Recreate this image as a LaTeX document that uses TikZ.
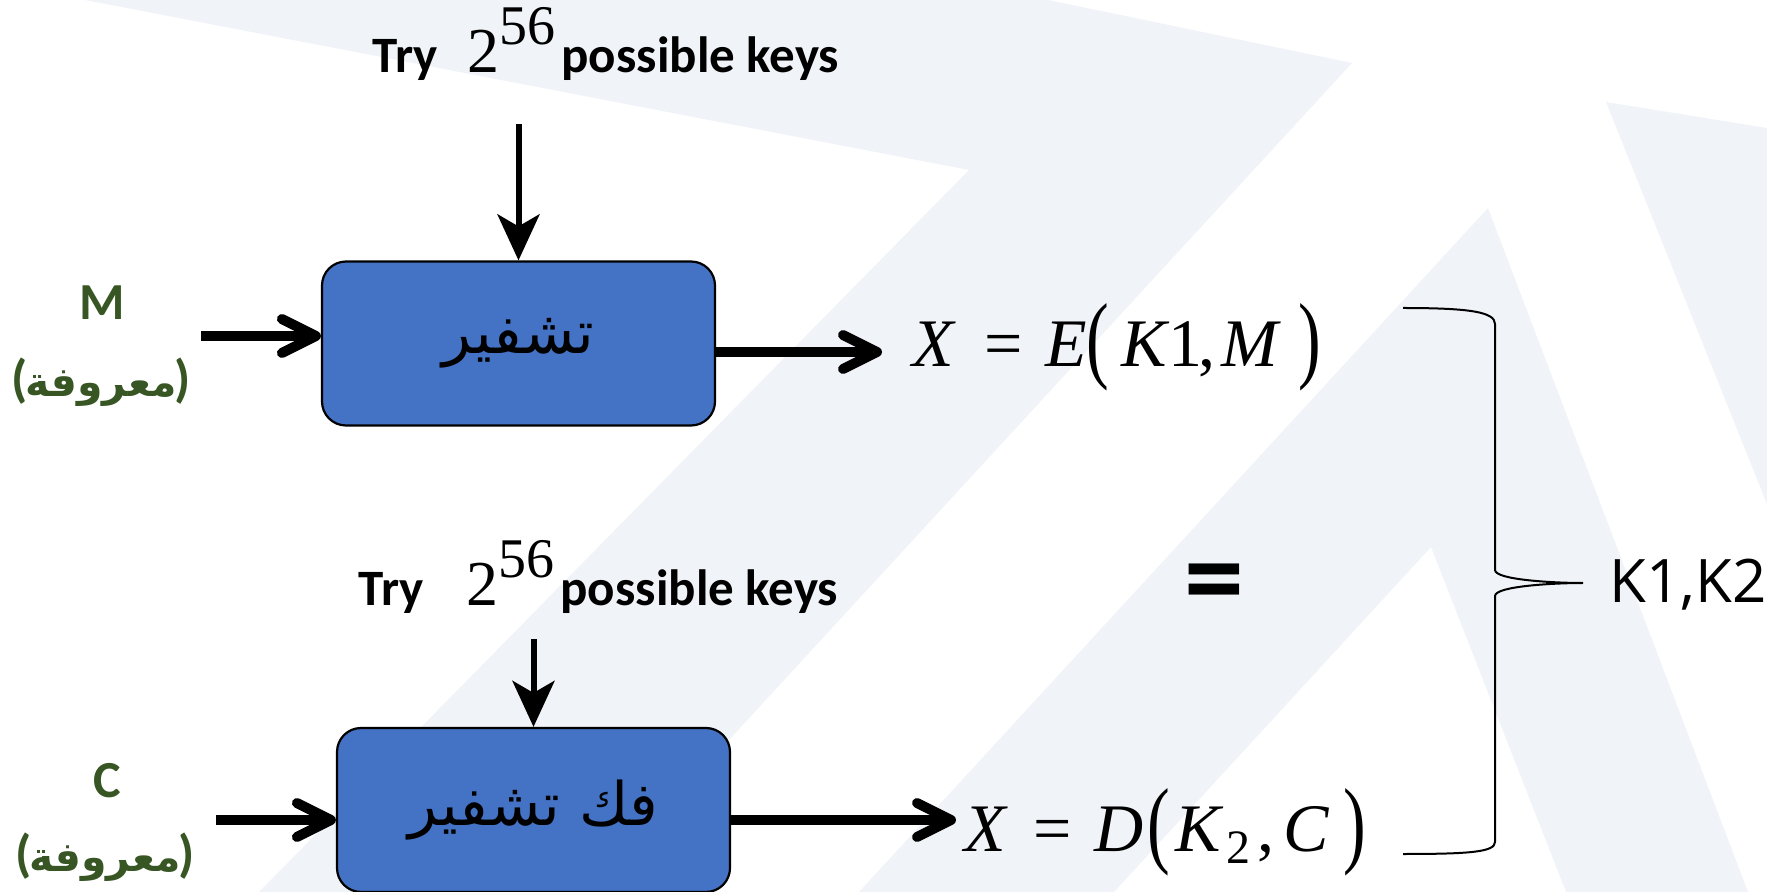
\documentclass[tikz,border=0pt]{standalone}
\usepackage{fontspec}
\usepackage{graphicx}
\setmainfont{Carlito}
\newfontfamily\tnr{Liberation Serif}
\newfontfamily\arabicfont[Script=Arabic]{DejaVu Sans}
\newfontfamily\kfont{Open Sans}
\TeXXeTstate=1
\usetikzlibrary{arrows.meta}
\definecolor{bgband}{RGB}{240,244,248}
\definecolor{boxblue}{RGB}{68,114,196}
\definecolor{labelgreen}{RGB}{55,86,35}
% tall parentheses for the formulas
\newcommand\tallparen[1]{\raisebox{-2pt}{\scalebox{1}[1.42]{#1}}}
% "2 to the 56" in the key-search captions
\newcommand\keycount{{\tnr\mdseries\fontsize{32pt}{38pt}\selectfont 2\raisebox{14pt}{\fontsize{28pt}{32pt}\selectfont 56}}}
% "(known)" under the plaintext and ciphertext labels
\newcommand\knowntext{(\hspace{-1pt}{\arabicfont\fontsize{20.5pt}{24pt}\selectfont\beginR معروفة\endR}\hspace{-1pt})}
\tikzset{
  cipherbox/.style={draw=black, line width=1.1pt, fill=boxblue, rounded corners=12pt,
    minimum width=196.5pt, minimum height=82pt, inner sep=0pt},
  keyarrow/.style={line width=3pt, -{Stealth[length=23pt,width=21pt,inset=6pt]}},
  feedarrow/.style={line width=5pt, -{Straight Barb[length=17pt,width=17pt,round]}},
  keylabel/.style={anchor=base west, inner sep=0pt, font=\bfseries\fontsize{25.5pt}{30pt}\selectfont},
  formula/.style={anchor=base west, inner sep=0pt, font=\tnr\fontsize{34pt}{40pt}\selectfont},
  greenlabel/.style={text=labelgreen, inner sep=0pt, font=\bfseries\fontsize{26pt}{30pt}\selectfont},
  knownlabel/.style={text=labelgreen, inner sep=0pt, font=\bfseries\fontsize{26pt}{30pt}\selectfont},
  boxtext/.style={font=\arabicfont\fontsize{30pt}{34pt}\selectfont},
  bracestroke/.style={line width=1pt, black},
}
\begin{document}
\begin{tikzpicture}[x=0.5pt,y=-0.5pt]
\useasboundingbox (0,0) rectangle (1767,892);
\fill[white] (0,0) rectangle (1767,892);
% pale background bands
\fill[bgband] (85,0) -- (1048,0) -- (1352,63) -- (589,892) -- (259,892) -- (969,170) -- cycle;
\fill[bgband] (1488,208) -- (1748,892) -- (1566,892) -- (1431,547) -- (1114,892) -- (859,892) -- cycle;
\fill[bgband] (1606,102) -- (1767,128) -- (1767,504) -- cycle;

% encryption stage
\node[cipherbox, boxtext] (enc) at (518.5,343.5) {\beginR تشفير\endR};
\node[keylabel] (trytop) at (372,73) {Try\hspace{15pt}\keycount\hspace{3pt}possible keys};
\coordinate (keytop) at (518.5,124);
\draw[keyarrow] (keytop) -- (enc.north);
\node[greenlabel] (mlab) at (102,303) {M};
\node[knownlabel] (mknown) at (101,382) {\knowntext};
\coordinate (min) at (201,336);
\draw[feedarrow] (min) -- (enc.west |- min);
\coordinate (eout) at (882,352);
\draw[feedarrow] (enc.east |- eout) -- (eout);
\node[formula] (xe) at (912,367) {{\itshape X}\hspace{15.5pt}=\hspace{11pt}{\itshape E}\tallparen{(}\hspace{6pt}{\itshape K}\hspace{1pt}1\hspace{-2pt},\hspace{3pt}{\itshape M}\hspace{10pt}\tallparen{)}};

% decryption stage
\node[cipherbox, boxtext] (dec) at (533.5,810) {\beginR فك تشفير\endR};
\node[keylabel] (trybot) at (358,606) {Try\hspace{21.5pt}\keycount\hspace{3pt}possible keys};
\coordinate (keybot) at (533.5,639);
\draw[keyarrow] (keybot) -- (dec.north);
\node[greenlabel] (clab) at (107,781) {C};
\node[knownlabel] (cknown) at (105,857) {\knowntext};
\coordinate (cin) at (216,820);
\draw[feedarrow] (cin) -- (dec.west |- cin);
\coordinate (dout) at (956,820);
\draw[feedarrow] (dec.east |- dout) -- (dout);
\node[formula] (xd) at (964,851) {{\itshape X}\hspace{13.75pt}=\hspace{11.5pt}{\itshape D}\hspace{2pt}\tallparen{(}\hspace{2.5pt}{\itshape K}\hspace{3pt}\raisebox{-6pt}{\fontsize{24pt}{28pt}\selectfont 2}\hspace{3.5pt},\hspace{4.5pt}{\itshape C}\hspace{7pt}\tallparen{)}};

% equality of the two intermediate values
\node[inner sep=0pt, font=\bfseries\fontsize{60pt}{70pt}\selectfont] (eq) at (1214,591) {=};

% brace collecting the key pair
\draw[bracestroke] (1403,308) .. controls (1470,308) and (1495,312) .. (1495,324)
  -- (1495,570) .. controls (1495,580) and (1555,583) .. (1583,583)
  .. controls (1555,583) and (1495,586) .. (1495,596)
  -- (1495,842) .. controls (1495,852) and (1470,854) .. (1403,854);
\node[anchor=base west, inner sep=0pt, font=\kfont\fontsize{30pt}{34pt}\selectfont] (keys) at (1609,603) {K1,K2};
\end{tikzpicture}
\end{document}
